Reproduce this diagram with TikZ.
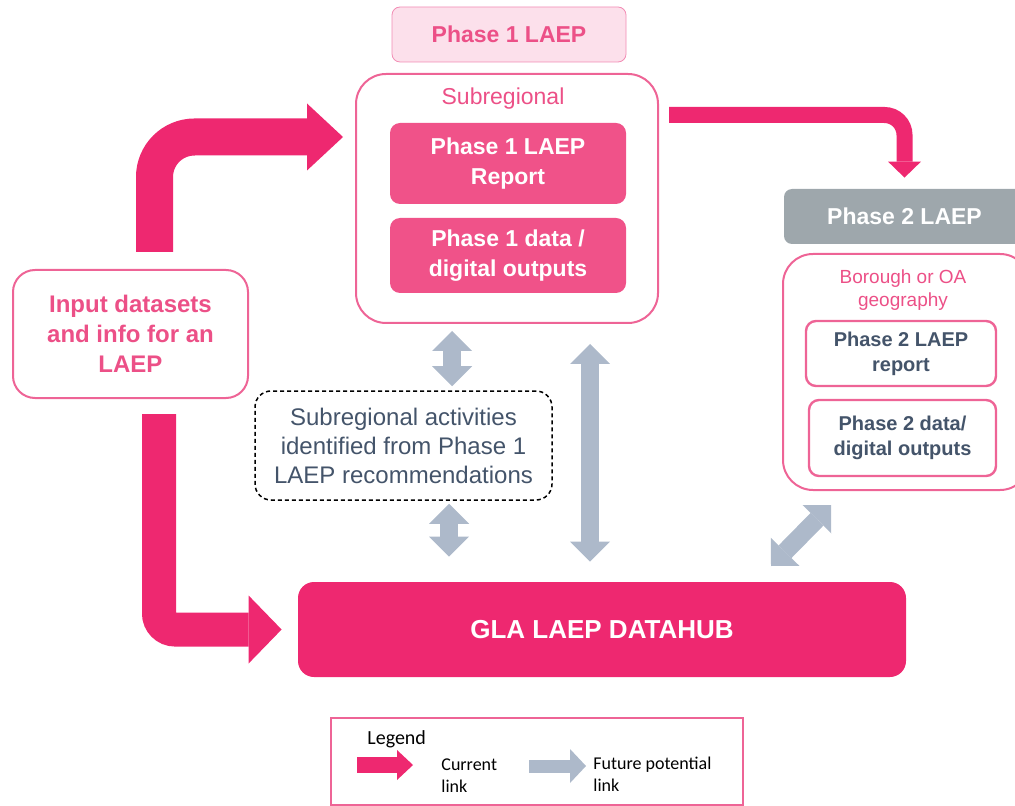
\documentclass[tikz,border=0pt]{standalone}
\usepackage{fontspec}
\setmainfont{Liberation Sans}
\newfontfamily\legendfont{Carlito}
\usetikzlibrary{arrows.meta}

\definecolor{hotpink}{RGB}{238,40,112}
\definecolor{midpink}{RGB}{240,82,137}
\definecolor{textpink}{RGB}{236,80,135}
\definecolor{framepink}{RGB}{238,100,150}
\definecolor{lightpink}{RGB}{252,224,235}
\definecolor{hdrline}{RGB}{242,140,180}
\definecolor{hdrgray}{RGB}{158,167,172}
\definecolor{slate}{RGB}{68,84,106}
\definecolor{futgray}{RGB}{173,185,202}

\begin{document}
\begin{tikzpicture}[x=0.5pt,y=-0.5pt,
  hdrbox/.style={rounded corners=4pt,minimum width=117pt,minimum height=27.5pt,font=\bfseries\fontsize{11.5pt}{14pt}\selectfont},
  group/.style={draw=framepink,line width=1pt,rounded corners=15pt},
  grouplabel/.style={text=textpink,align=center,inner sep=0pt},
  phaseone/.style={fill=midpink,text=white,rounded corners=5pt,minimum width=118pt,align=center,font=\bfseries\fontsize{11.5pt}{15pt}\selectfont},
  phasetwo/.style={draw=framepink,line width=1.2pt,fill=white,rounded corners=5pt,text=slate,align=center,font=\bfseries\fontsize{10pt}{12.5pt}\selectfont},
  legendtext/.style={inner sep=0pt,font=\legendfont\fontsize{9pt}{11pt}\selectfont},
  curlink/.style n args={3}{draw=hotpink,line width=#1,-{Triangle[length=#2,width=#3,line width=0pt]}},
  futlink/.style={draw=futgray,line width=9pt,{Triangle[length=10pt,width=20pt,line width=0pt]}-{Triangle[length=10pt,width=20pt,line width=0pt]}}]
\useasboundingbox (0,0) rectangle (1015,806);
\clip (0,0) rectangle (1015,806);

% phase 1
\node[hdrbox,fill=lightpink,draw=hdrline,text=textpink] (hdrone) at (509,34.5) {Phase 1 LAEP};
\node[group,minimum width=151pt,minimum height=124.5pt] (subreg) at (507,198.5) {};
\node[grouplabel,font=\fontsize{11.5pt}{14pt}\selectfont] (subregtxt) at (503,99) {Subregional};
\node[phaseone,minimum height=40.5pt] (ponerep) at (508,163.5) {Phase 1 LAEP\\Report};
\node[phaseone,minimum height=37.5pt] (ponedata) at (508,255.5) {Phase 1 data /\\digital outputs};

% phase 2
\node[hdrbox,fill=hdrgray,text=white,minimum width=120.5pt] (hdrtwo) at (904.5,216.5) {Phase 2 LAEP};
\node[group,minimum width=123.5pt,minimum height=118pt] (borough) at (906.5,372) {};
\node[grouplabel,font=\fontsize{9.5pt}{11.5pt}\selectfont] (boroughtxt) at (903,290) {Borough or OA\\geography};
\node[phasetwo,minimum width=95pt,minimum height=32.5pt] (ptworep) at (901,353.5) {Phase 2 LAEP\\report};
\node[phasetwo,minimum width=93.5pt,minimum height=38pt] (ptwodata) at (902.5,438) {Phase 2 data/\\digital outputs};

% inputs, activities, hub
\node[draw=framepink,line width=1pt,rounded corners=11pt,minimum width=117.5pt,minimum height=64pt,text=textpink,align=center,font=\bfseries\fontsize{12pt}{15pt}\selectfont] (inputbox) at (130.5,334) {Input datasets\\and info for an\\LAEP};
\node[draw,dash pattern=on 2pt off 1.5pt,line width=0.75pt,rounded corners=8pt,minimum width=148.5pt,minimum height=54.5pt,text=slate,align=center,font=\fontsize{12pt}{14.5pt}\selectfont] (actbox) at (403.5,445.5) {Subregional activities\\identified from Phase 1\\LAEP recommendations};
\node[fill=hotpink,text=white,rounded corners=8pt,minimum width=304pt,minimum height=47.5pt,font=\bfseries\fontsize{13pt}{15pt}\selectfont] (datahub) at (602,629.5) {GLA LAEP DATAHUB};

% current links
\draw[curlink={18.5pt}{18pt}{33.5pt},rounded corners=20pt,shorten <=8.5pt,shorten >=6pt] ([xshift=12pt]inputbox.north) |- ([yshift=30.75pt]subreg.west);
\draw[curlink={8pt}{8pt}{16.5pt},rounded corners=10pt,shorten <=5pt,shorten >=5.5pt] ([yshift=41.75pt]subreg.east) -| (hdrtwo.north);
\draw[curlink={17pt}{16.5pt}{34pt},rounded corners=8pt,shorten <=7.5pt,shorten >=8pt] ([xshift=14.25pt]inputbox.south) |- (datahub.west);

% future links
\draw[futlink,shorten <=3.5pt,shorten >=2pt] ([xshift=-27.5pt]subreg.south) -- ([xshift=24.25pt]actbox.north);
\draw[futlink,shorten <=1.5pt,shorten >=12.5pt] ([xshift=22.75pt]actbox.south) -- ([xshift=-76.5pt]datahub.north);
\draw[futlink,shorten <=10pt,shorten >=10pt] ([xshift=41.5pt]subreg.south) -- ([xshift=-6pt]datahub.north);
\coordinate (diaglow) at (771,566);
\coordinate (diagup) at (831,505);
\draw[futlink] (diaglow) -- (diagup);

% legend
\node[draw=framepink,line width=0.75pt,minimum width=206pt,minimum height=43.5pt] (legendbox) at (537,761.5) {};
\node[legendtext,anchor=base west,font=\legendfont\fontsize{10pt}{12pt}\selectfont] (legendtitle) at (367,744) {Legend};
\node[legendtext,anchor=west,align=left] (curtxt) at (441,776) {Current\\link};
\node[legendtext,anchor=west,align=left] (futtxt) at (593,774) {Future potential\\link};
\coordinate (curfrom) at (357,765);
\coordinate (curto) at (413,765);
\draw[curlink={8pt}{8pt}{15pt}] (curfrom) -- (curto);
\coordinate (futfrom) at (529,766);
\coordinate (futto) at (586,766);
\draw[draw=futgray,line width=6.5pt,-{Triangle[length=8pt,width=17pt,line width=0pt]}] (futfrom) -- (futto);
\end{tikzpicture}
\end{document}
